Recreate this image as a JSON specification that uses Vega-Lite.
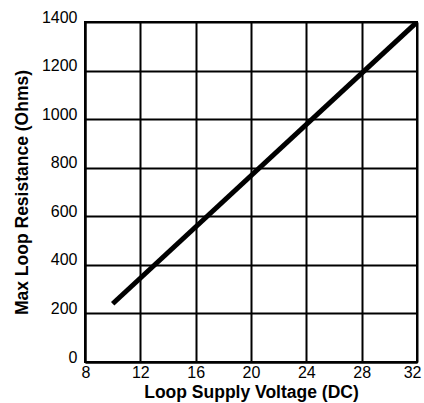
{
  "$schema": "https://vega.github.io/schema/vega-lite/v6.json",
  "width": 332,
  "height": 340,
  "autosize": "none",
  "padding": {"left": 85, "top": 22, "right": 7, "bottom": 41},
  "background": "white",
  "config": {
    "font": "Liberation Sans",
    "view": {"stroke": "black", "strokeWidth": 2},
    "axis": {
      "domainColor": "black", "domainWidth": 2,
      "gridColor": "black", "gridWidth": 2, "gridOpacity": 1,
      "ticks": false, "format": "d",
      "labelFont": "Liberation Sans", "labelFontSize": 16, "labelColor": "black",
      "titleFont": "Liberation Sans", "titleFontSize": 17.5, "titleFontWeight": "bold", "titleColor": "black"
    }
  },
  "data": {"values": [
    {"voltage": 10, "resistance": 240},
    {"voltage": 32, "resistance": 1400}
  ]},
  "mark": {"type": "line", "color": "black", "strokeWidth": 5, "clip": true},
  "encoding": {
    "x": {"field": "voltage", "type": "quantitative", "title": "Loop Supply Voltage (DC)",
      "scale": {"domain": [8, 32], "nice": false, "zero": false},
      "axis": {"values": [8, 12, 16, 20, 24, 28, 32], "labelPadding": 2, "titlePadding": 3, "labelFlush": true, "labelFlushOffset": 4}},
    "y": {"field": "resistance", "type": "quantitative", "title": "Max Loop Resistance (Ohms)",
      "scale": {"domain": [0, 1400], "nice": false},
      "axis": {"values": [0, 200, 400, 600, 800, 1000, 1200, 1400], "labelPadding": 8, "titlePadding": 10, "labelFlush": false, "labelOffset": -5}}
  }
}
